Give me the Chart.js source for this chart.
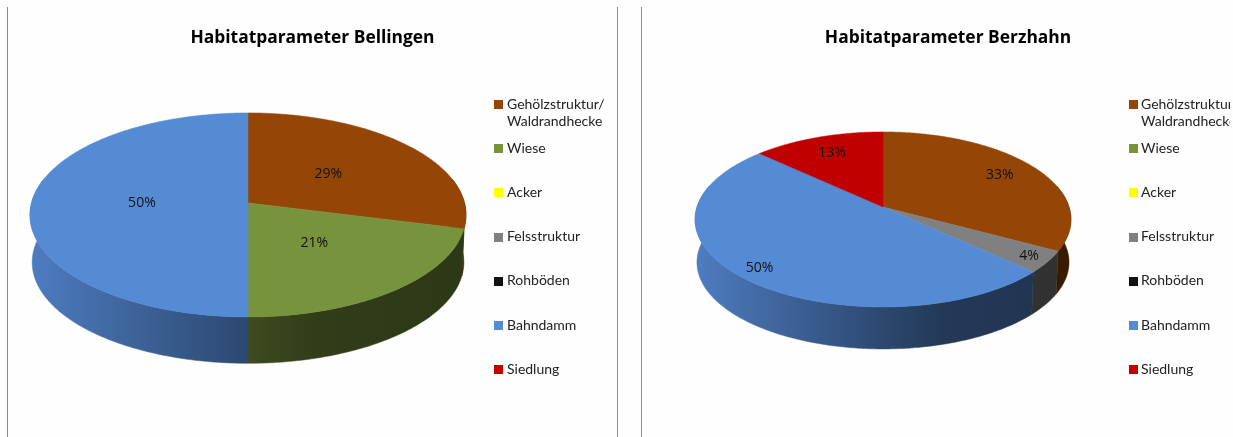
<!DOCTYPE html>
<html><head><meta charset="utf-8">
<script src="https://cdn.jsdelivr.net/npm/chart.js@4/dist/chart.umd.min.js"></script>
<style>
html,body{margin:0;padding:0;background:#fefefe;width:1233px;height:437px;overflow:hidden}
.panel{position:absolute;top:7px;height:430px}
.rule{position:absolute;top:7px;height:430px;width:1px;background:#8c8c8c}
canvas{display:block}
</style></head><body>
<div class="rule" style="left:7px"></div>
<div class="rule" style="left:617px"></div>
<div class="rule" style="left:641px"></div>
<div class="panel" style="left:8px;width:609px"><canvas id="a"></canvas></div>
<div class="panel" style="left:642px;width:612px;clip-path:inset(0 24px 0 0)"><canvas id="b"></canvas></div>
<script>
const categories = [["Gehölzstruktur/","Waldrandhecke"],"Wiese","Acker","Felsstruktur","Rohböden","Bahndamm","Siedlung"];
const sliceColors = ["#954606","#77933c","#ffff00","#808080","#111111","#558ad5","#c00000"];
const titleBellingen = "Habitatparameter Bellingen";
const titleBerzhahn = "Habitatparameter Berzhahn";
const valuesBellingen = [29,21,0,0,0,50,0];
const valuesBerzhahn = [33,0,0,4,0,50,13];

function shade(hex,f){
  const n=parseInt(hex.slice(1),16);
  const c=[(n>>16)&255,(n>>8)&255,n&255].map(v=>Math.round(v*f));
  return `rgb(${c[0]},${c[1]},${c[2]})`;
}
const pie3d={
  id:'pie3d',
  beforeDatasetsDraw(chart,args,o){
    const ctx=chart.ctx, meta=chart.getDatasetMeta(0), k=o.k, ratio=o.ratio, dx=o.dx;
    const arcs=meta.data;
    const map=(el,a,depth,s)=>{
      const u=Math.cos(a),v=Math.sin(a),w=1-k*v;
      return [el.x+dx+s*el.outerRadius*u/w, el.y+s*el.outerRadius*ratio*v/w+depth];
    };
    ctx.save();
    // side wall
    arcs.forEach((el,i)=>{
      if(!chart.data.datasets[0].data[i])return;
      const a0=Math.max(el.startAngle,-0.25),a1=Math.min(el.endAngle,Math.PI+0.25);
      if(a1<=a0)return;
      const col=sliceColors[i];
      const g=ctx.createLinearGradient(el.x+dx-el.outerRadius,0,el.x+dx+el.outerRadius,0);
      g.addColorStop(0,shade(col,.9));g.addColorStop(.5,shade(col,.52));g.addColorStop(.66,shade(col,.41));g.addColorStop(1,shade(col,.38));
      ctx.beginPath();
      const n=Math.max(2,Math.ceil((a1-a0)*90));
      for(let j=0;j<=n;j++){const p=map(el,a0+(a1-a0)*j/n,0,1);j?ctx.lineTo(p[0],p[1]):ctx.moveTo(p[0],p[1]);}
      for(let j=n;j>=0;j--){const p=map(el,a0+(a1-a0)*j/n,o.depth,.99);ctx.lineTo(p[0],p[1]);}
      ctx.closePath();ctx.fillStyle=g;ctx.strokeStyle=g;ctx.lineWidth=.5;ctx.fill();ctx.stroke();
    });
    // top face
    arcs.forEach((el,i)=>{
      if(!chart.data.datasets[0].data[i])return;
      const a0=el.startAngle,a1=el.endAngle,n=Math.max(2,Math.ceil((a1-a0)*90));
      ctx.beginPath();ctx.moveTo(el.x+dx,el.y);
      for(let j=0;j<=n;j++){const p=map(el,a0+(a1-a0)*j/n,0,1);ctx.lineTo(p[0],p[1]);}
      ctx.closePath();ctx.fillStyle=sliceColors[i];ctx.strokeStyle=sliceColors[i];ctx.lineWidth=.5;ctx.fill();ctx.stroke();
    });
    // percent labels
    ctx.fillStyle='#111';ctx.font='14px "Open Sans"';ctx.textAlign='center';ctx.textBaseline='middle';
    arcs.forEach((el,i)=>{
      const val=chart.data.datasets[0].data[i];
      if(!val)return;
      const a=(el.startAngle+el.endAngle)/2, q=o.labelQ[i];
      ctx.fillText(val+'%',el.x+dx+q*el.outerRadius*Math.cos(a),el.y+q*el.outerRadius*ratio*Math.sin(a));
    });
    ctx.restore();
    return false;
  },
  afterDraw(chart,args,o){
    const ctx=chart.ctx;
    ctx.save();ctx.textBaseline='middle';ctx.textAlign='left';ctx.font=o.legendFont;
    chart.data.labels.forEach((lab,i)=>{
      const y=97+44.2*i;
      ctx.fillStyle=sliceColors[i];ctx.fillRect(o.legendX,Math.round(y-4),9,9);
      ctx.fillStyle='#222';
      [].concat(lab).forEach((t,j)=>ctx.fillText(t,o.legendX+o.legendGap,y+j*17));
    });
    ctx.restore();
  }
};
function make(id,title,values,pad,rx,k,depth,labelQ,dx){
  const cv=document.getElementById(id);
  return new Chart(cv,{type:'pie',
    data:{labels:categories,datasets:[{data:values,backgroundColor:sliceColors,borderWidth:0}]},
    plugins:[pie3d],
    options:{responsive:true,maintainAspectRatio:false,animation:false,radius:rx,
      layout:{padding:pad},
      plugins:{legend:{display:false},tooltip:{enabled:false},
        title:{display:true,text:title,color:'#000',font:{family:'"Open Sans"',size:17.4,weight:'bold'},padding:{top:20.5,bottom:0}},
        pie3d:{k:k.k,ratio:k.ratio,depth,labelQ,dx,legendX:id==='a'?486:487,legendGap:id==='a'?13:12,legendFont:'14px Lato'}
      }}});
}
make('a',titleBellingen,valuesBellingen,{bottom:79.5},216.5,{k:.1176,ratio:.4647},47.5,[.47,.5,0,0,0,.49,0],-64.5);
make('b',titleBerzhahn,valuesBerzhahn,{bottom:71.5},186,{k:.1429,ratio:.4608},43,[.73,0,0,.97,0,.97,.69],-65);
</script>
</body></html>
